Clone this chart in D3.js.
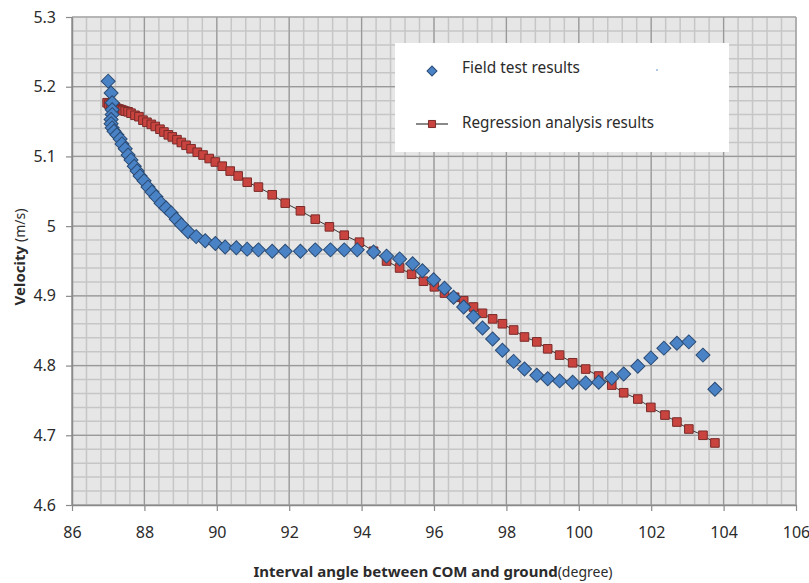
<!DOCTYPE html>
<html>
<head>
<meta charset="utf-8">
<script src="https://cdn.jsdelivr.net/npm/d3@7"></script>
<style>
  body { margin: 0; background: #fff; }
  text { font-family: "Noto Sans", sans-serif; fill: #2b2b2b; }
</style>
</head>
<body>
<script>
//Width and height
var w = 809;
var h = 583;

//tick labels
var xTicks = [86, 88, 90, 92, 94, 96, 98, 100, 102, 104, 106];
var yTicks = [4.6, 4.7, 4.8, 4.9, 5, 5.1, 5.2, 5.3];

//field test results (angle, velocity)
var fieldAngle = [87.00, 87.08, 87.11, 87.11, 87.11, 87.08, 87.08, 87.11, 87.16, 87.24,
    87.33, 87.38, 87.47, 87.55, 87.63, 87.72, 87.80, 87.88, 87.99, 88.10,
    88.21, 88.32, 88.46, 88.60, 88.74, 88.88, 89.02, 89.21, 89.43, 89.68,
    89.96, 90.23, 90.54, 90.84, 91.15, 91.53, 91.89, 92.31, 92.72, 93.14,
    93.52, 93.88, 94.33, 94.69, 95.05, 95.41, 95.68, 95.99, 96.29, 96.54,
    96.82, 97.09, 97.34, 97.62, 97.89, 98.20, 98.50, 98.84, 99.14, 99.47,
    99.83, 100.19, 100.55, 100.91, 101.24, 101.63, 101.99, 102.35, 102.71, 103.04,
    103.43, 103.76];
var fieldVelocity = [5.208, 5.191, 5.177, 5.167, 5.160, 5.153, 5.147, 5.141, 5.136, 5.131,
    5.125, 5.118, 5.111, 5.102, 5.095, 5.086, 5.079, 5.072, 5.065, 5.056,
    5.049, 5.042, 5.033, 5.026, 5.019, 5.010, 5.002, 4.992, 4.985, 4.979,
    4.975, 4.970, 4.969, 4.967, 4.966, 4.964, 4.964, 4.964, 4.966, 4.966,
    4.966, 4.966, 4.963, 4.957, 4.953, 4.946, 4.936, 4.923, 4.911, 4.898,
    4.884, 4.870, 4.854, 4.838, 4.822, 4.806, 4.795, 4.786, 4.781, 4.778,
    4.776, 4.775, 4.776, 4.782, 4.788, 4.799, 4.811, 4.825, 4.832, 4.834,
    4.815, 4.766];

//regression analysis results (angle, velocity)
var regAngle = [86.97, 87.02, 87.08, 87.13, 87.19, 87.24, 87.30, 87.36, 87.41, 87.47,
    87.55, 87.63, 87.74, 87.85, 87.96, 88.07, 88.19, 88.30, 88.43, 88.54,
    88.66, 88.77, 88.90, 89.02, 89.15, 89.29, 89.46, 89.62, 89.79, 89.96,
    90.15, 90.37, 90.59, 90.84, 91.15, 91.53, 91.89, 92.31, 92.72, 93.11,
    93.52, 93.94, 94.33, 94.69, 95.05, 95.38, 95.71, 96.01, 96.29, 96.57,
    96.82, 97.09, 97.34, 97.62, 97.89, 98.20, 98.50, 98.84, 99.14, 99.47,
    99.83, 100.19, 100.55, 100.91, 101.24, 101.63, 101.99, 102.38, 102.71, 103.04,
    103.43, 103.76];
var regVelocity = [5.177, 5.175, 5.174, 5.172, 5.171, 5.169, 5.168, 5.167, 5.166, 5.165,
    5.164, 5.162, 5.159, 5.157, 5.152, 5.149, 5.146, 5.143, 5.139, 5.135,
    5.131, 5.128, 5.124, 5.120, 5.116, 5.111, 5.106, 5.102, 5.097, 5.092,
    5.086, 5.079, 5.072, 5.063, 5.056, 5.045, 5.033, 5.022, 5.010, 4.999,
    4.987, 4.977, 4.964, 4.950, 4.940, 4.931, 4.921, 4.913, 4.904, 4.898,
    4.893, 4.884, 4.875, 4.867, 4.860, 4.851, 4.841, 4.834, 4.824, 4.815,
    4.804, 4.795, 4.785, 4.772, 4.761, 4.752, 4.740, 4.729, 4.719, 4.709,
    4.700, 4.689];

var seriesNames = ["Field test results", "Regression analysis results"];

//scales
var xScale = d3.scaleLinear().domain([86, 106]).range([72, 796]);
var yScale = d3.scaleLinear().domain([4.6, 5.3]).range([505, 17]);

//Create SVG element
var svg = d3.select("body")
            .append("svg")
            .attr("width", w)
            .attr("height", h);

//plot background
svg.append("rect")
   .attr("x", xScale(86))
   .attr("y", yScale(5.3))
   .attr("width", xScale(106) - xScale(86))
   .attr("height", yScale(4.6) - yScale(5.3))
   .attr("fill", "#e6e6e6");

//minor grid: every 0.4 degree and every 0.02 m/s
var xMinor = d3.range(0, 51).map(function(i){ return 86 + i * 0.4; });
var yMinor = d3.range(0, 36).map(function(i){ return 4.6 + i * 0.02; });

svg.append("g").selectAll("line")
   .data(xMinor)
   .enter()
   .append("line")
   .attr("x1", function(d){ return xScale(d); })
   .attr("x2", function(d){ return xScale(d); })
   .attr("y1", yScale(5.3))
   .attr("y2", yScale(4.6))
   .attr("stroke", "#c6c6c6")
   .attr("stroke-width", 1.5);

svg.append("g").selectAll("line")
   .data(yMinor)
   .enter()
   .append("line")
   .attr("x1", xScale(86))
   .attr("x2", xScale(106))
   .attr("y1", function(d){ return yScale(d); })
   .attr("y2", function(d){ return yScale(d); })
   .attr("stroke", "#c6c6c6")
   .attr("stroke-width", 1.5);

//major grid
svg.append("g").selectAll("line")
   .data(xTicks)
   .enter()
   .append("line")
   .attr("x1", function(d){ return xScale(d); })
   .attr("x2", function(d){ return xScale(d); })
   .attr("y1", yScale(5.3))
   .attr("y2", yScale(4.6))
   .attr("stroke", "#999999")
   .attr("stroke-width", 1.2);

svg.append("g").selectAll("line")
   .data(yTicks)
   .enter()
   .append("line")
   .attr("x1", xScale(86))
   .attr("x2", xScale(106))
   .attr("y1", function(d){ return yScale(d); })
   .attr("y2", function(d){ return yScale(d); })
   .attr("stroke", "#999999")
   .attr("stroke-width", 1.2);

//axes
var xAxis = svg.append("g")
   .attr("transform", "translate(0," + yScale(4.6) + ")")
   .call(d3.axisBottom(xScale).tickValues(xTicks).tickSize(6).tickPadding(16).tickSizeOuter(0));
var yAxis = svg.append("g")
   .attr("transform", "translate(" + xScale(86) + ",0)")
   .call(d3.axisLeft(yScale).tickValues(yTicks).tickSize(6).tickPadding(10).tickSizeOuter(0)
         .tickFormat(function(d){ return d3.format("")(d); }));

[xAxis, yAxis].forEach(function(a){
    a.select(".domain").attr("stroke", "#8a8a8a").attr("stroke-width", 1.5);
    a.selectAll(".tick line").attr("stroke", "#8a8a8a").attr("stroke-width", 1.2);
    a.selectAll(".tick text")
     .style("font-family", "'Noto Sans', sans-serif")
     .style("font-size", "16px")
     .attr("fill", "#2b2b2b");
});

//regression line and squares
var regData = regAngle.map(function(d, i){ return [d, regVelocity[i]]; });
var fieldData = fieldAngle.map(function(d, i){ return [d, fieldVelocity[i]]; });

svg.append("path")
   .datum(regData)
   .attr("fill", "none")
   .attr("stroke", "#3a3a3a")
   .attr("stroke-width", 1)
   .attr("d", d3.line()
      .x(function(d){ return xScale(d[0]); })
      .y(function(d){ return yScale(d[1]); }));

var square = d3.symbol().type(d3.symbolSquare).size(74);
var diamond = d3.symbol().type(d3.symbolSquare).size(98);

svg.append("g").selectAll("path")
   .data(regData)
   .enter()
   .append("path")
   .attr("d", square)
   .attr("transform", function(d){
       return "translate(" + xScale(d[0]) + "," + yScale(d[1]) + ")";
   })
   .attr("fill", "#c9433f")
   .attr("stroke", "#7a2c2a")
   .attr("stroke-width", 1);

//field test diamonds (squares turned 45 degrees)
svg.append("g").selectAll("path")
   .data(fieldData)
   .enter()
   .append("path")
   .attr("d", diamond)
   .attr("transform", function(d){
       return "translate(" + xScale(d[0]) + "," + yScale(d[1]) + ") rotate(45)";
   })
   .attr("fill", "#4a82c6")
   .attr("stroke", "#2a4b74")
   .attr("stroke-width", 1);

//legend box
var legend = svg.append("g");
legend.append("rect")
   .attr("x", 395)
   .attr("y", 43)
   .attr("width", 334)
   .attr("height", 109)
   .attr("fill", "#ffffff");

legend.append("path")
   .attr("d", d3.symbol().type(d3.symbolSquare).size(50))
   .attr("transform", "translate(432,71) rotate(45)")
   .attr("fill", "#4a82c6")
   .attr("stroke", "#2a4b74");

legend.append("line")
   .attr("x1", 416).attr("x2", 448)
   .attr("y1", 124).attr("y2", 124)
   .attr("stroke", "#3a3a3a")
   .attr("stroke-width", 1.2);

legend.append("path")
   .attr("d", d3.symbol().type(d3.symbolSquare).size(50))
   .attr("transform", "translate(432,124)")
   .attr("fill", "#c9433f")
   .attr("stroke", "#7a2c2a");

//stray dot in the legend
legend.append("circle")
   .attr("cx", 657).attr("cy", 70).attr("r", 0.8)
   .attr("fill", "#4a82c6");

legend.selectAll("text")
   .data(seriesNames)
   .enter()
   .append("text")
   .text(function(d){ return d; })
   .attr("x", 462)
   .attr("y", function(d, i){ return i == 0 ? 73 : 128; })
   .attr("textLength", function(d, i){ return i == 0 ? 118 : 192; })
   .attr("lengthAdjust", "spacingAndGlyphs")
   .style("font-size", "16px");

//axis titles
var xTitle = svg.append("text")
   .attr("x", 433)
   .attr("y", 577)
   .attr("text-anchor", "middle")
   .style("font-size", "15px");
xTitle.append("tspan").text("Interval angle between COM and ground").style("font-weight", "bold");
xTitle.append("tspan").text("(degree)").style("font-size", "14px");

var yTitle = svg.append("text")
   .attr("transform", "translate(25,257) rotate(-90)")
   .attr("text-anchor", "middle")
   .style("font-size", "15px");
yTitle.append("tspan").text("Velocity ").style("font-weight", "bold");
yTitle.append("tspan").text("(m/s)").style("font-size", "14px");
</script>
</body>
</html>
